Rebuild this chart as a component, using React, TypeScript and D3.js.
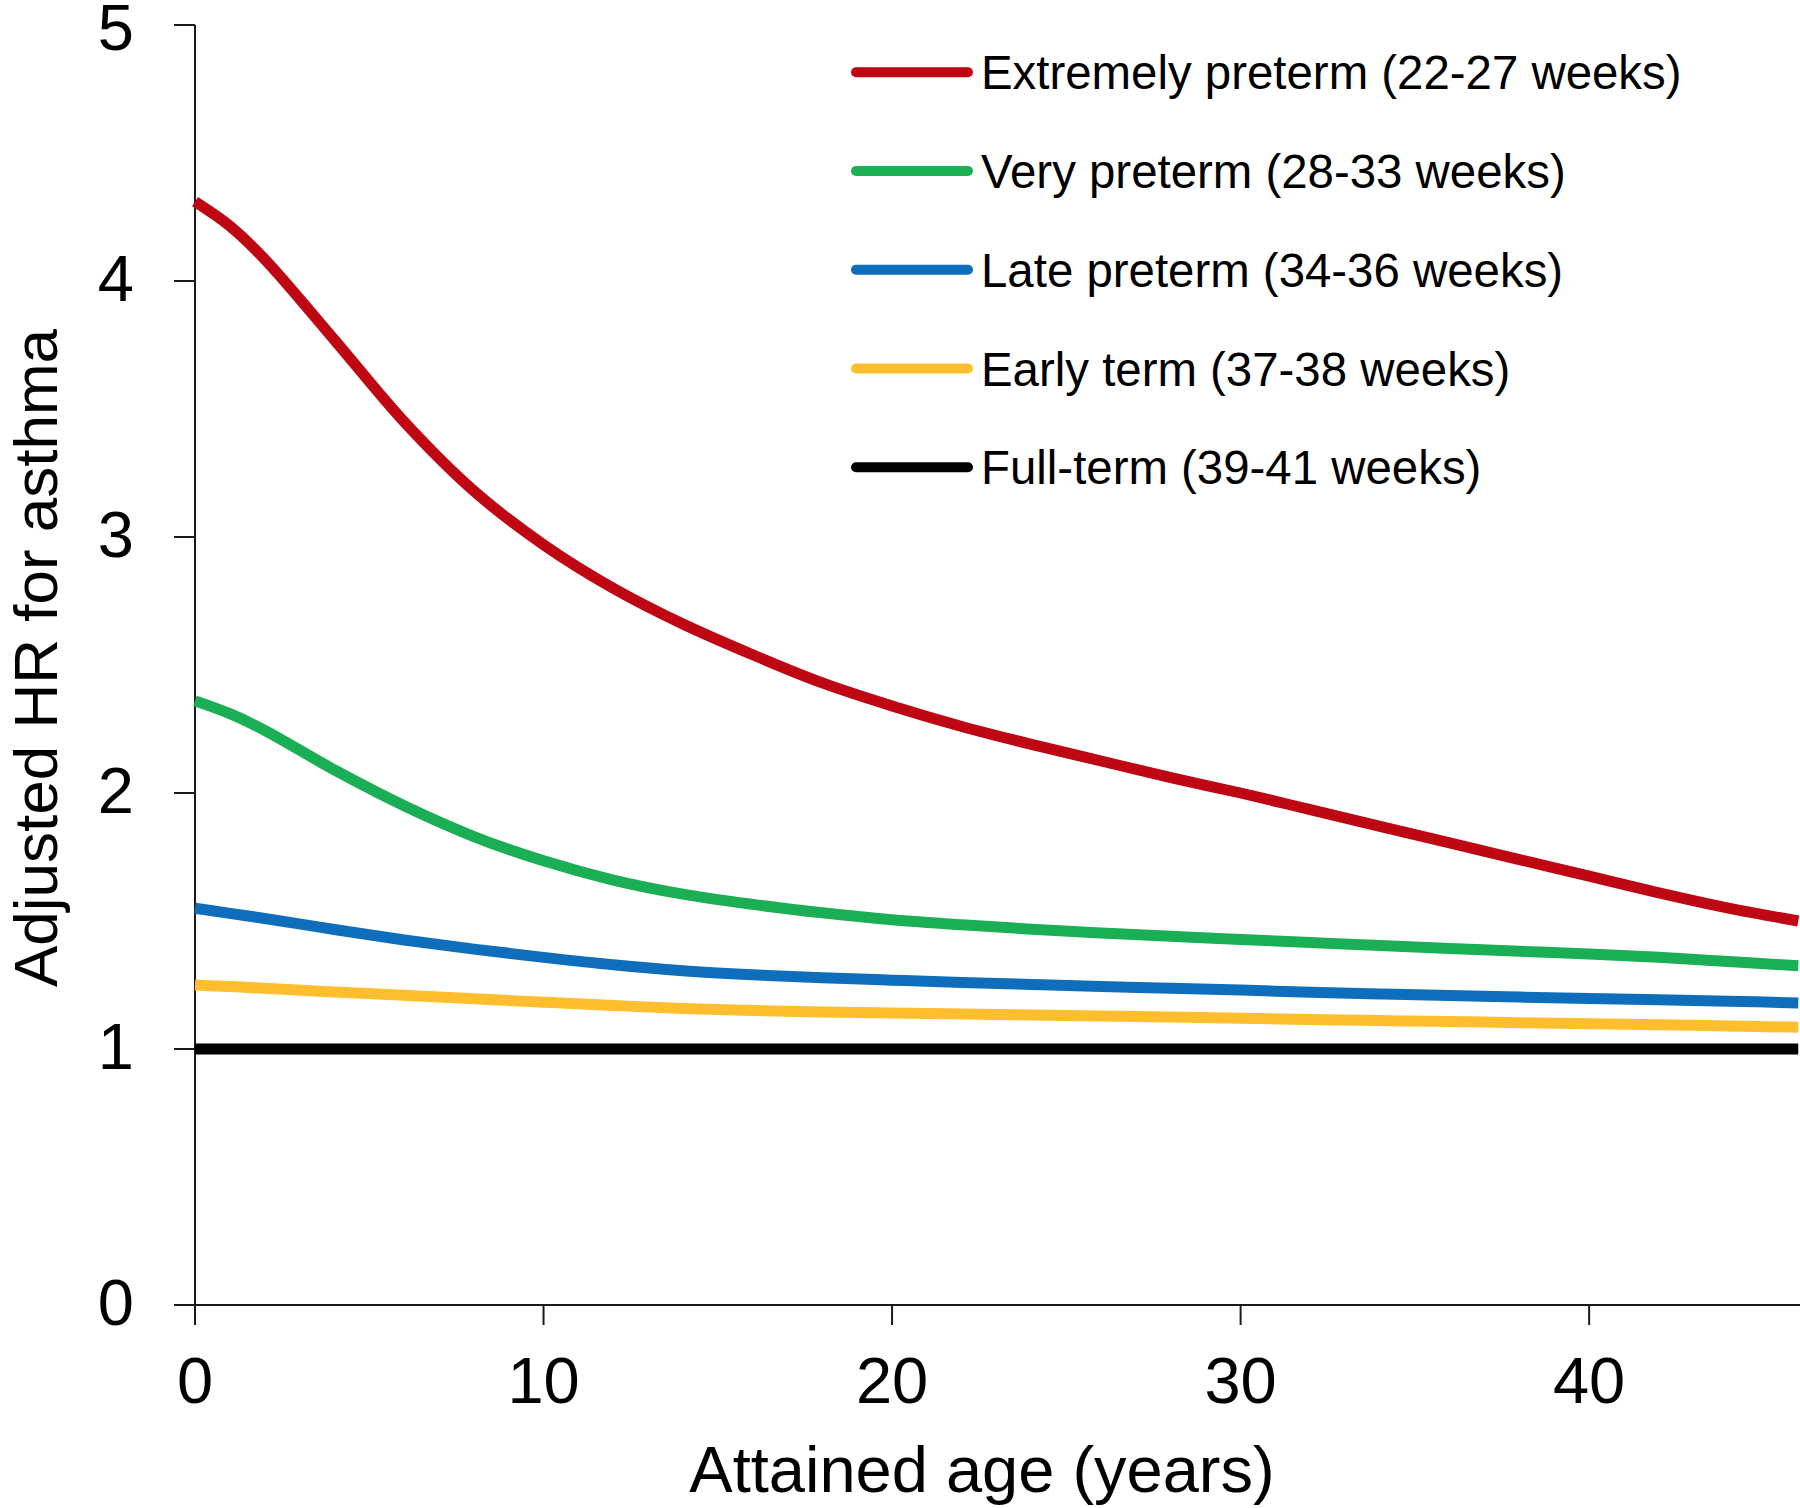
import React from "react";
import * as d3 from "d3";

const ages = [0, 1, 2, 4, 6, 8, 10, 12, 14, 16, 18, 20, 22, 24, 26, 28, 30, 32, 34, 36, 38, 40, 42, 44, 46];

const extremelyPreterm = [4.31, 4.215, 4.085, 3.77, 3.45, 3.18, 2.97, 2.8, 2.66, 2.54, 2.43, 2.34, 2.26, 2.19, 2.125, 2.06, 2.0, 1.935, 1.87, 1.805, 1.74, 1.675, 1.61, 1.55, 1.5];
const veryPreterm = [2.36, 2.31, 2.245, 2.09, 1.95, 1.83, 1.735, 1.66, 1.605, 1.565, 1.532, 1.505, 1.485, 1.468, 1.453, 1.44, 1.428, 1.416, 1.404, 1.393, 1.382, 1.371, 1.358, 1.342, 1.325];
const latePreterm = [1.55, 1.53, 1.51, 1.467, 1.426, 1.39, 1.358, 1.329, 1.306, 1.29, 1.278, 1.269, 1.26, 1.252, 1.244, 1.237, 1.23, 1.222, 1.215, 1.209, 1.203, 1.197, 1.192, 1.187, 1.18];
const earlyTerm = [1.25, 1.244, 1.237, 1.223, 1.21, 1.196, 1.183, 1.17, 1.158, 1.15, 1.145, 1.141, 1.137, 1.133, 1.129, 1.125, 1.12, 1.115, 1.111, 1.107, 1.103, 1.099, 1.095, 1.09, 1.085];
const fullTerm = [1, 1, 1, 1, 1, 1, 1, 1, 1, 1, 1, 1, 1, 1, 1, 1, 1, 1, 1, 1, 1, 1, 1, 1, 1];

const seriesNames = [
  "Extremely preterm (22-27 weeks)",
  "Very preterm (28-33 weeks)",
  "Late preterm (34-36 weeks)",
  "Early term (37-38 weeks)",
  "Full-term (39-41 weeks)",
];
const seriesColors = ["#BE0712", "#1AAF54", "#0F6EBB", "#FEBE2E", "#000000"];
const seriesValues = [extremelyPreterm, veryPreterm, latePreterm, earlyTerm, fullTerm];

const xTicks = [0, 10, 20, 30, 40];
const yTicks = [0, 1, 2, 3, 4, 5];
const xTitle = "Attained age (years)";
const yTitle = "Adjusted HR for asthma";

const W = 1800;
const H = 1508;
const FONT = "'Liberation Sans', Arial, Helvetica, sans-serif";

export default function App() {
  const x = d3.scaleLinear().domain([0, 46.05]).range([195, 1800]);
  const y = d3.scaleLinear().domain([0, 5]).range([1305, 25]);
  const line = d3
    .line<number>()
    .x((_, i) => x(ages[i]))
    .y((d) => y(d))
    .curve(d3.curveCatmullRom.alpha(0.5));

  const legendX0 = 856;
  const legendX1 = 968;
  const legendY0 = 72.3;
  const legendStep = 98.75;
  const axisColor = "#1a1a1a";

  return (
    <svg
      width={W}
      height={H}
      viewBox={`0 0 ${W} ${H}`}
      style={{ position: "absolute", left: 0, top: 0, background: "#fff" }}
      fontFamily={FONT}
    >
      <rect x={0} y={0} width={W} height={H} fill="#fff" />

      {/* y axis */}
      <line x1={x(0)} x2={x(0)} y1={y(5)} y2={y(0)} stroke={axisColor} strokeWidth={2} />
      {yTicks.map((t) => (
        <g key={"yt" + t}>
          <line x1={x(0) - 21} x2={x(0)} y1={y(t)} y2={y(t)} stroke={axisColor} strokeWidth={2} />
          <text x={134} y={Math.max(y(t) + 20, 50)} textAnchor="end" fontSize={65} fill="#000">
            {t}
          </text>
        </g>
      ))}

      {/* x axis */}
      <line x1={x(0)} x2={W} y1={y(0)} y2={y(0)} stroke={axisColor} strokeWidth={2} />
      {xTicks.map((t) => (
        <g key={"xt" + t}>
          <line x1={x(t)} x2={x(t)} y1={y(0)} y2={y(0) + 20} stroke={axisColor} strokeWidth={2} />
          <text x={x(t)} y={1403} textAnchor="middle" fontSize={65} fill="#000">
            {t}
          </text>
        </g>
      ))}

      {/* titles */}
      <text x={982} y={1492} textAnchor="middle" fontSize={65} fill="#000">
        {xTitle}
      </text>
      <text
        transform={`translate(57, 658) rotate(-90)`}
        textAnchor="middle"
        fontSize={62}
        fill="#000"
      >
        {yTitle}
      </text>

      {/* series lines */}
      {seriesValues
        .map((vals, i) => ({ vals, i }))
        .reverse()
        .map(({ vals, i }) => (
          <path
            key={"s" + i}
            d={line(vals) || ""}
            fill="none"
            stroke={seriesColors[i]}
            strokeWidth={11}
            strokeLinejoin="round"
          />
        ))}

      {/* legend */}
      {seriesNames.map((name, i) => {
        const ly = legendY0 + i * legendStep;
        return (
          <g key={"lg" + i}>
            <line
              x1={legendX0}
              x2={legendX1}
              y1={ly}
              y2={ly}
              stroke={seriesColors[i]}
              strokeWidth={10}
              strokeLinecap="round"
            />
            <text x={981} y={ly + 17} fontSize={47.4} fill="#000">
              {name}
            </text>
          </g>
        );
      })}
    </svg>
  );
}
